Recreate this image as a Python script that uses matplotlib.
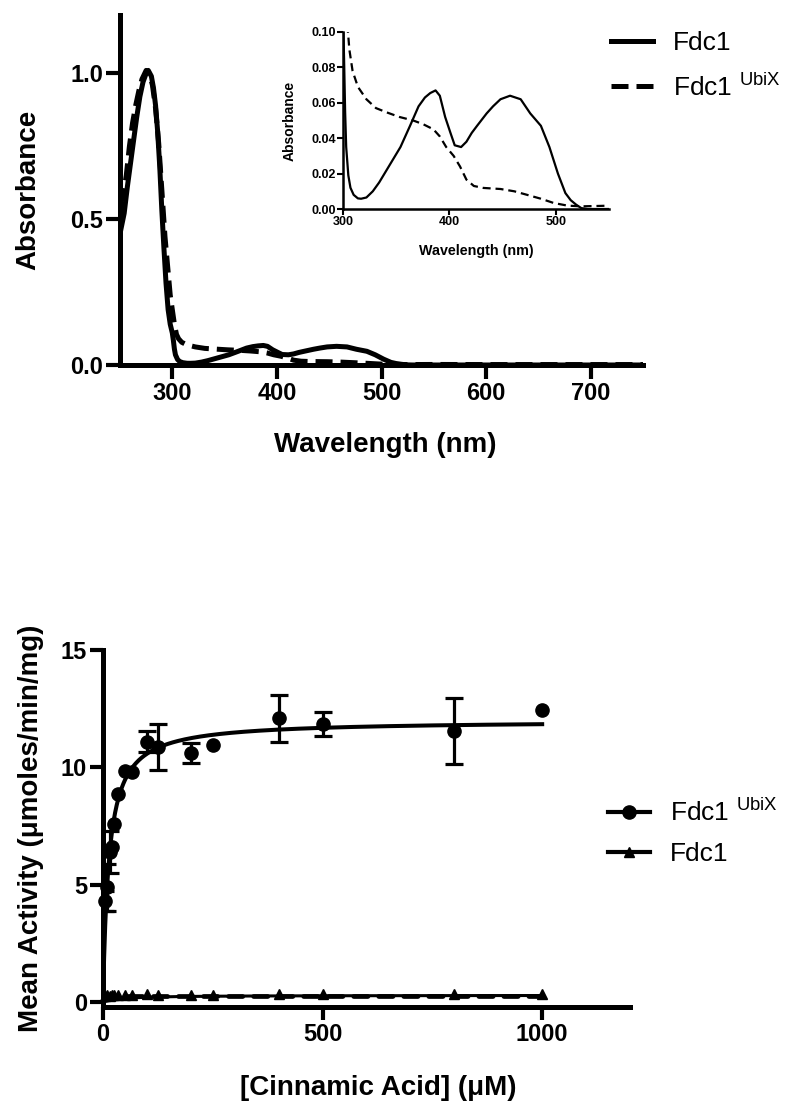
import matplotlib
matplotlib.use("Agg")
import matplotlib.pyplot as plt
import numpy as np
from matplotlib.lines import Line2D
from matplotlib.ticker import FormatStrFormatter

plt.rcParams['font.family'] = ['Liberation Sans', 'DejaVu Sans']
plt.rcParams['font.weight'] = 'bold'
plt.rcParams['mathtext.fontset'] = 'custom'
plt.rcParams['mathtext.rm'] = 'Liberation Sans:weight=normal'
plt.rcParams['mathtext.it'] = 'Liberation Sans:italic'
plt.rcParams['mathtext.bf'] = 'Liberation Sans:bold'

# ---------------- Data: absorbance spectra ----------------
wl_fdc1 = [250, 254, 257, 260, 263, 266, 269, 272, 275, 277, 280, 282, 284, 286, 288,
           290, 292, 294, 296, 298, 300, 301, 302, 303, 305, 307, 310, 314, 317, 322,
           328, 334, 341, 348, 354, 363, 371, 377, 382, 387, 391, 396, 401, 405, 411,
           416, 421, 426, 435, 441, 448, 457, 467, 476, 486, 494, 502, 509, 514, 519,
           524, 530, 600, 700, 750]
abs_fdc1 = [0.45, 0.52, 0.61, 0.69, 0.77, 0.85, 0.92, 0.97, 1.00, 1.01, 0.99, 0.95, 0.89,
            0.80, 0.68, 0.53, 0.40, 0.28, 0.19, 0.14, 0.11, 0.085, 0.055, 0.035, 0.019,
            0.012, 0.008, 0.006, 0.0058, 0.0065, 0.010, 0.015, 0.022, 0.029, 0.035,
            0.047, 0.058, 0.063, 0.0655, 0.067, 0.064, 0.052, 0.043, 0.036, 0.035,
            0.038, 0.043, 0.047, 0.054, 0.058, 0.062, 0.064, 0.062, 0.054, 0.047,
            0.035, 0.020, 0.009, 0.005, 0.0025, 0.0005, 0.0, 0.0, 0.0, 0.0]

wl_ubix = [250, 253, 256, 259, 262, 265, 268, 271, 275, 278, 281, 284, 287, 290, 293,
           296, 298, 300, 302, 304, 306, 309, 314, 322, 331, 341, 353, 366, 375, 385,
           391, 397, 404, 410, 416, 423, 432, 448, 461, 473, 486, 498, 511, 524, 552,
           600, 700, 750]
abs_ubix = [0.55, 0.58, 0.65, 0.75, 0.83, 0.89, 0.94, 0.98, 1.01, 1.00, 0.96, 0.88,
            0.76, 0.60, 0.44, 0.32, 0.24, 0.19, 0.14, 0.105, 0.090, 0.078, 0.069,
            0.062, 0.057, 0.0546, 0.052, 0.050, 0.048, 0.045, 0.041, 0.035, 0.030,
            0.024, 0.0166, 0.013, 0.0119, 0.0113, 0.010, 0.008, 0.0058, 0.0034,
            0.0019, 0.0015, 0.0019, 0.0015, 0.0015, 0.0015]

# ---------------- Data: kinetics ----------------
conc = [5, 10, 15, 20, 25, 35, 50, 65, 100, 125, 200, 250, 400, 500, 800, 1000]
act_ubix = [4.3, 4.9, 6.4, 6.6, 7.6, 8.85, 9.85, 9.8, 11.1, 10.85, 10.6, 10.95,
            12.1, 11.85, 11.55, 12.45]
err_ubix = [0.42, 1.0, 0.9, 0.0, 0.0, 0.0, 0.0, 0.0, 0.45, 0.98, 0.43, 0.0,
            1.0, 0.52, 1.4, 0.0]
act_fdc1 = [0.25, 0.3, 0.28, 0.32, 0.3, 0.33, 0.3, 0.32, 0.34, 0.33, 0.32, 0.33,
            0.34, 0.34, 0.35, 0.36]
# Michaelis-Menten fit parameters
vmax_ubix, km_ubix = 12.0, 13.4
vmax_fdc1, km_fdc1 = 0.30, 40.0
fdc1_level = 0.28

fig = plt.figure(figsize=(8, 11.06), dpi=100)
W, H = 800.0, 1106.0


def style(ax, lw, tlen, tw, lsize, pad):
    for s in ['top', 'right']:
        ax.spines[s].set_visible(False)
    for s in ['left', 'bottom']:
        ax.spines[s].set_linewidth(lw)
        ax.spines[s].set_capstyle('projecting')
    ax.tick_params(direction='out', length=tlen, width=tw, labelsize=lsize, pad=pad)
    ax.patch.set_alpha(0)


DASH_MAIN = (3.4, 1.6)

# ---------------- Top: spectra ----------------
ax1 = fig.add_axes([120 / W, 1 - 365 / H, 523 / W, 350 / H])
ax1.plot(wl_fdc1, abs_fdc1, color='black', lw=3.6, solid_joinstyle='round')
ax1.plot(wl_ubix, abs_ubix, color='black', lw=3.6, dashes=DASH_MAIN)
ax1.set_xlim(250, 750)
ax1.set_ylim(0, 1.2)
ax1.set_xticks([300, 400, 500, 600, 700])
ax1.set_yticks([0.0, 0.5, 1.0])
ax1.yaxis.set_major_formatter(FormatStrFormatter('%.1f'))
style(ax1, 3.6, 10, 3.0, 17, 2)
ax1.set_xlabel('Wavelength (nm)', fontsize=20, fontweight='bold')
ax1.set_ylabel('Absorbance', fontsize=20, fontweight='bold')
ax1.xaxis.set_label_coords((385 - 120) / 523, (365 - 445) / 350)
ax1.xaxis.label.set_va('center')
ax1.yaxis.set_label_coords((28 - 120) / 523, (365 - 190) / 350)
ax1.yaxis.label.set_va('center')

leg1 = ax1.legend([Line2D([], [], color='black', lw=3.6),
                   Line2D([], [], color='black', lw=3.6, dashes=DASH_MAIN)],
                  ['Fdc1', 'Fdc1 $^{\\mathrm{UbiX}}$'],
                  loc='upper left', bbox_to_anchor=(611 / W, 1 - 31 / H),
                  bbox_transform=fig.transFigure, frameon=False,
                  prop={'size': 19, 'weight': 'normal'}, handlelength=1.6,
                  handletextpad=0.75, labelspacing=0.7, borderpad=0, borderaxespad=0)

# inset
axi = fig.add_axes([343 / W, 1 - 209 / H, 266 / W, 177 / H])
axi.plot(wl_fdc1, abs_fdc1, color='black', lw=1.6)
axi.plot(wl_ubix, abs_ubix, color='black', lw=1.6, dashes=(3.6, 2.2))
axi.set_xlim(300, 550)
axi.set_ylim(0, 0.10)
axi.set_xticks([300, 400, 500])
axi.set_yticks([0.00, 0.02, 0.04, 0.06, 0.08, 0.10])
axi.yaxis.set_major_formatter(FormatStrFormatter('%.2f'))
style(axi, 1.8, 4, 1.5, 9, 1)
axi.set_xlabel('Wavelength (nm)', fontsize=10.3, fontweight='bold')
axi.set_ylabel('Absorbance', fontsize=10, fontweight='bold')
axi.xaxis.set_label_coords(0.5, (209 - 251) / 177)
axi.xaxis.label.set_va('center')
axi.yaxis.set_label_coords((290 - 343) / 266, 0.5)
axi.yaxis.label.set_va('center')

# ---------------- Bottom: kinetics ----------------
ax2 = fig.add_axes([103 / W, 1 - 1007 / H, 527 / W, 357 / H])
xfit = np.linspace(0, max(conc), 800)
ax2.plot(xfit, vmax_ubix * xfit / (km_ubix + xfit), color='black', lw=2.9, zorder=3)
ax2.plot(xfit, vmax_fdc1 * xfit / (km_fdc1 + xfit), color='black', lw=2.2, zorder=3)
ax2.plot([0, max(conc)], [fdc1_level, fdc1_level], color='black', lw=3.4,
         dashes=(3.0, 2.3), dash_capstyle='round', zorder=3)
c_arr = np.array(conc)
a_arr = np.array(act_ubix)
e_arr = np.array(err_ubix)
has_err = e_arr > 0
ax2.errorbar(c_arr[has_err], a_arr[has_err], yerr=e_arr[has_err], fmt='none',
             ecolor='black', elinewidth=2.3, capsize=6.5, capthick=2.3, zorder=4)
ax2.plot(conc, act_ubix, 'o', color='black', ms=9.5, zorder=5, clip_on=False)
ax2.plot(conc, act_fdc1, '^', color='black', ms=7.5, zorder=5, clip_on=False)
ax2.set_xlim(0, 1200)
ax2.set_ylim(-0.2, 15)
ax2.set_xticks([0, 500, 1000])
ax2.set_yticks([0, 5, 10, 15])
style(ax2, 3.6, 9.5, 3.0, 17, 2)
ax2.set_xlabel('[Cinnamic Acid] (\u03bcM)', fontsize=20, fontweight='bold')
ax2.set_ylabel('Mean Activity (\u03bcmoles/min/mg)', fontsize=20, fontweight='bold')
ax2.xaxis.set_label_coords((378 - 103) / 527, (1007 - 1088) / 357)
ax2.xaxis.label.set_va('center')
ax2.yaxis.set_label_coords((31 - 103) / 527, (1007 - 828) / 357)
ax2.yaxis.label.set_va('center')

leg2 = ax2.legend([Line2D([], [], color='black', lw=3.0, marker='o', ms=9.5),
                   Line2D([], [], color='black', lw=3.0, marker='^', ms=7.5)],
                  ['Fdc1 $^{\\mathrm{UbiX}}$', 'Fdc1'],
                  loc='upper left', bbox_to_anchor=(608 / W, 1 - 799 / H),
                  bbox_transform=fig.transFigure, frameon=False,
                  prop={'size': 19, 'weight': 'normal'}, handlelength=1.6,
                  handletextpad=0.75, labelspacing=0.62, borderpad=0, borderaxespad=0)

fig.savefig('out.png', dpi=100)
